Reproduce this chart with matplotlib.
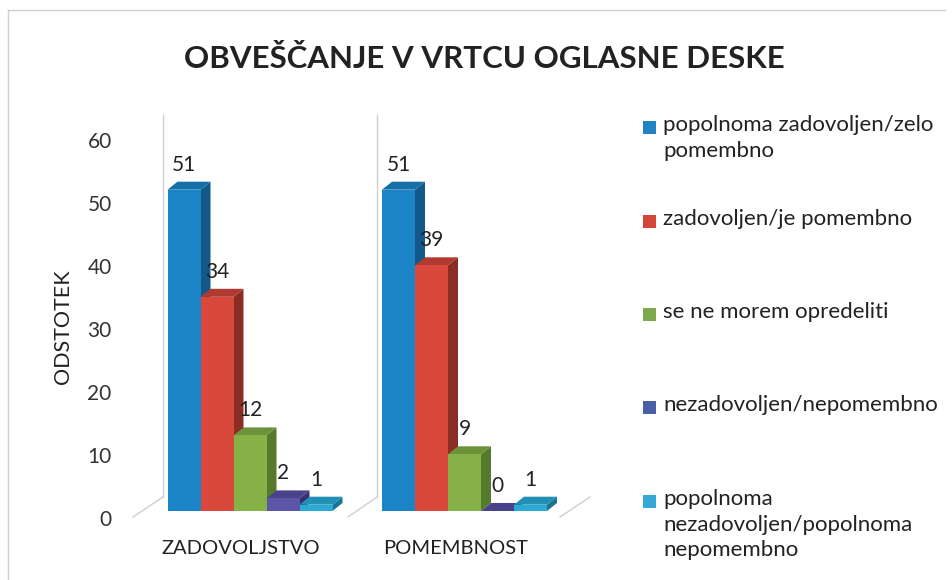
import matplotlib
matplotlib.use("Agg")
import matplotlib.pyplot as plt
from matplotlib.patches import Polygon, Rectangle
from matplotlib.transforms import ScaledTranslation

plt.rcParams['font.family'] = ['Lato', 'DejaVu Sans']

# ---- data ----
title = "OBVEŠČANJE V VRTCU OGLASNE DESKE"
ylabel = "ODSTOTEK"
categories = ["ZADOVOLJSTVO", "POMEMBNOST"]
series_names = [
    "popolnoma zadovoljen/zelo\npomembno",
    "zadovoljen/je pomembno",
    "se ne morem opredeliti",
    "nezadovoljen/nepomembno",
    "popolnoma\nnezadovoljen/popolnoma\nnepomembno",
]
s_popolnoma_zadovoljen = [51, 51]
s_zadovoljen = [34, 39]
s_ne_morem = [12, 9]
s_nezadovoljen = [2, 0]
s_popolnoma_nezadovoljen = [1, 1]
series_values = [s_popolnoma_zadovoljen, s_zadovoljen, s_ne_morem,
                 s_nezadovoljen, s_popolnoma_nezadovoljen]
yticks = [0, 10, 20, 30, 40, 50, 60]

# ---- style ----
front_cols = ["#1B84C6", "#D8483B", "#86B147", "#5B56A8", "#2AAAD4"]
side_cols = ["#12598A", "#8B2C25", "#557A2B", "#363070", "#1A7592"]
top_cols = ["#1670A8", "#B03A30", "#6D933A", "#48438C", "#2290B5"]
legend_cols = ["#2283C2", "#D3473B", "#7DAA4C", "#4A5EA8", "#36A8D6"]

W, H = 952, 580
fig = plt.figure(figsize=(W / 100, H / 100), dpi=100)

# axes: data 0 at pixel y=511, 6.3 px per unit
ax_left_px, ax_right_px = 120, 600
y0_px, px_per_unit = 511, 6.3
ax_h_px = 60 * px_per_unit
ax = fig.add_axes([ax_left_px / W, (H - y0_px) / H,
                   (ax_right_px - ax_left_px) / W, ax_h_px / H])
grp_c1, grp_sp = 250, 214.5
ax.set_xlim((ax_left_px - grp_c1) / grp_sp, (ax_right_px - grp_c1) / grp_sp)
ax.set_ylim(0, 60)
for s in ax.spines.values():
    s.set_visible(False)
ax.patch.set_alpha(0)

bw = 33 / grp_sp
dx = 10 / grp_sp
dy = 8 / px_per_unit

def px2x(px):
    return (px - grp_c1) / grp_sp

def py2y(py):
    return (y0_px - py) / px_per_unit

# back wall / floor lines
wall_col = "#cfcfcf"
for xp in (163, 377):
    ax.plot([px2x(xp), px2x(xp)], [py2y(497), py2y(115)], color=wall_col,
            lw=1.0, clip_on=False, zorder=0)
for (xa, ya, xb, yb) in [(133, 517, 163, 497), (348, 517, 377, 497),
                         (560, 517, 590, 497)]:
    ax.plot([px2x(xa), px2x(xb)], [py2y(ya), py2y(yb)], color=wall_col,
            lw=1.0, clip_on=False, zorder=0)

n = len(series_values)
for g in range(len(categories)):
    for i in range(n):
        v = series_values[i][g]
        x0 = g + (i - n / 2) * bw
        side = Polygon([(x0 + bw, 0), (x0 + bw + dx, dy), (x0 + bw + dx, v + dy),
                        (x0 + bw, v)], closed=True, fc=side_cols[i], ec="none",
                       clip_on=False)
        top = Polygon([(x0, v), (x0 + dx, v + dy), (x0 + bw + dx, v + dy),
                       (x0 + bw, v)], closed=True, fc=top_cols[i], ec="none",
                      clip_on=False)
        front = Rectangle((x0, 0), bw, v, fc=front_cols[i], ec="none",
                          clip_on=False)
        ax.add_patch(side)
        ax.add_patch(top)
        ax.add_patch(front)
        ax.annotate(f"{v}", (x0 + bw / 2, v), xytext=(0, 18),
                    textcoords="offset points", ha="center", va="center",
                    fontsize=15, color="#222222", zorder=10)

# y ticks
ax.set_yticks(yticks)
ax.set_yticklabels([str(t) for t in yticks])
ax.tick_params(axis="y", length=0, pad=6, labelsize=15, labelcolor="#333333")
for lab in ax.get_yticklabels():
    lab.set_transform(lab.get_transform() +
                      ScaledTranslation(0, -7 / 100, fig.dpi_scale_trans))
ax.set_xticks([0, 1])
ax.set_xticklabels([])
ax.tick_params(axis="x", length=0)

# category labels
for g, c in enumerate(categories):
    fig.text((grp_c1 - 9 + g * grp_sp) / W, 1 - 548 / H, c, ha="center",
             va="center", fontsize=14.5, color="#222222")

# y label
fig.text(63 / W, 1 - 327 / H, ylabel, rotation=90, ha="center", va="center",
         fontsize=15.5, color="#222222")

# title
fig.text(484 / W, 1 - 59 / H, title, ha="center", va="center", fontsize=22.5,
         fontweight="bold", color="#222222")

# legend
leg_y = [128, 222, 315, 408, 502]
for i, name in enumerate(series_names):
    yc = leg_y[i]
    fig.patches.append(Rectangle((643 / W, 1 - (yc + 6) / H), 13 / W, 13 / H,
                                 transform=fig.transFigure, fc=legend_cols[i],
                                 ec="none"))
    fig.text(663 / W, 1 - (yc - 13) / H, name, ha="left", va="top",
             fontsize=16, color="#222222", linespacing=1.35)

# faint frame
fig.add_artist(plt.Line2D([8 / W, 8 / W], [0, 1 - 10 / H], color="#d0d0d0",
                          lw=1, transform=fig.transFigure))
fig.add_artist(plt.Line2D([8 / W, 945 / W], [1 - 10 / H, 1 - 10 / H],
                          color="#d0d0d0", lw=1, transform=fig.transFigure))

fig.savefig("out.png", dpi=100, facecolor="white")
